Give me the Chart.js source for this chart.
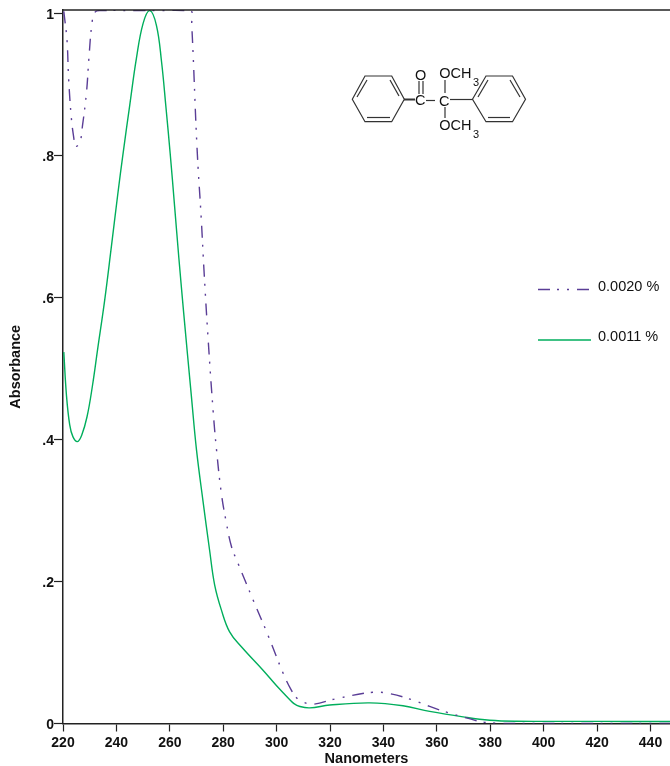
<!DOCTYPE html>
<html>
<head>
<meta charset="utf-8">
<title>Absorbance spectrum</title>
<script src="https://cdn.jsdelivr.net/npm/chart.js@4/dist/chart.umd.min.js"></script>
<style>
  html, body { margin: 0; padding: 0; background: #fff; }
  #wrap { position: relative; width: 670px; height: 766px; overflow: hidden; }
  #molecule { position: absolute; left: 340px; top: 50px; }
  #molecule text { font-family: "Liberation Sans", Arial, sans-serif; font-size: 14.5px; fill: #111; }
  #molecule text.sub { font-size: 11px; }
  #molecule line, #molecule polygon { stroke: #333; stroke-width: 1.2; fill: none; }
</style>
</head>
<body>
<div id="wrap">
  <canvas id="spectrum" width="670" height="766"></canvas>
  <svg id="molecule" width="200" height="110">
    <polygon points="12.3,49.3 25,26 51.7,26 64.3,49.3 51.7,71.7 25,71.7"/>
    <line x1="17" y1="47" x2="27" y2="30"/>
    <line x1="50" y1="30" x2="59" y2="46"/>
    <line x1="27" y1="67.5" x2="50" y2="67.5"/>
    <line x1="64" y1="49.5" x2="75" y2="49.5" style="stroke-width:2"/>
    <text x="75" y="55">C</text>
    <line x1="86" y1="50.5" x2="95" y2="50.5"/>
    <text x="99" y="55.5">C</text>
    <text x="75" y="30">O</text>
    <line x1="79" y1="31" x2="79" y2="44"/>
    <line x1="83" y1="31" x2="83" y2="44"/>
    <line x1="105" y1="30" x2="105" y2="43"/>
    <line x1="105" y1="57" x2="105" y2="68"/>
    <line x1="110" y1="49.5" x2="132.5" y2="49.5"/>
    <text x="99.3" y="27.7">OCH</text>
    <text class="sub" x="133" y="36">3</text>
    <text x="99.3" y="80">OCH</text>
    <text class="sub" x="133" y="87.7">3</text>
    <polygon points="132.5,49.3 146,26 172.5,26 185.5,49.3 172.5,71.7 146,71.7"/>
    <line x1="138" y1="47" x2="148" y2="30"/>
    <line x1="170" y1="30" x2="180" y2="47"/>
    <line x1="148" y1="67.5" x2="170" y2="67.5"/>
  </svg>
</div>
<script>
const wavelengths2 = [220.3, 221.5, 222.1, 223.1, 224, 224.8, 226.3, 227.3, 228.8, 229.7, 230.9, 232, 234, 250, 267.6, 268.2, 270.2, 271.8, 272.8, 274.3, 276.2, 277.5, 279.3, 281.2, 283.1, 285.5, 291.2, 296.8, 302.4, 305.5, 308, 310, 313.5, 322.4, 336, 342.4, 351, 357.3, 363.6, 371, 377.3, 382.3, 390, 420, 447.3];
const absorbance2 = [1.003, 0.962, 0.909, 0.854, 0.826, 0.813, 0.818, 0.842, 0.889, 0.937, 0.988, 1.002, 1.004, 1.004, 1.004, 0.985, 0.81, 0.709, 0.638, 0.544, 0.441, 0.385, 0.324, 0.282, 0.249, 0.226, 0.174, 0.124, 0.071, 0.047, 0.034, 0.03, 0.027, 0.035, 0.044, 0.042, 0.033, 0.024, 0.016, 0.008, 0.002, 0.0005, 0, 0, 0];

const wavelengths1 = [220.3, 221.3, 222.5, 223.7, 225.4, 227, 229, 231, 233, 235.6, 238, 240.5, 242.5, 245, 247.5, 250, 252.5, 255, 256.9, 258.5, 260.2, 261.8, 263.4, 265.2, 268.1, 270, 272.4, 274.9, 276.8, 279.3, 282.4, 286.8, 294.9, 299.9, 304.3, 306.5, 308.7, 312.4, 319.9, 334.9, 347.3, 357.3, 369.8, 379.8, 389.8, 420, 447.3];
const absorbance1 = [0.523, 0.462, 0.421, 0.404, 0.397, 0.406, 0.432, 0.475, 0.528, 0.596, 0.668, 0.745, 0.803, 0.871, 0.937, 0.986, 1.004, 0.983, 0.932, 0.87, 0.8, 0.728, 0.655, 0.578, 0.46, 0.385, 0.314, 0.244, 0.195, 0.16, 0.129, 0.108, 0.075, 0.0535, 0.036, 0.028, 0.024, 0.022, 0.026, 0.029, 0.025, 0.017, 0.0093, 0.0046, 0.0032, 0.003, 0.0028];

const seriesLabels = ['0.0020 %', '0.0011 %'];
const xTicks = [220, 240, 260, 280, 300, 320, 340, 360, 380, 400, 420, 440];
const yTicks = [0, 0.2, 0.4, 0.6, 0.8, 1];
const yTickLabels = ['0', '.2', '.4', '.6', '.8', '1'];

const FONT = '"Liberation Sans", Arial, sans-serif';
const PURPLE = '#5a3d96';
const GREEN = '#00ae5c';
const DASH = [12, 7, 2, 8, 2, 8];

// top frame line plus the hand placed legend on the right
const extras = {
  id: 'extras',
  afterDraw(chart) {
    const { ctx, chartArea } = chart;
    ctx.save();
    ctx.strokeStyle = '#222';
    ctx.lineWidth = 1.5;
    ctx.beginPath();
    ctx.moveTo(chartArea.left, chartArea.top);
    ctx.lineTo(chartArea.right, chartArea.top);
    ctx.stroke();

    chart.data.datasets.forEach((ds, i) => {
      const y = 289.5 + i * 50.5;
      ctx.strokeStyle = ds.borderColor;
      ctx.lineWidth = 1.4;
      ctx.setLineDash(ds.borderDash || []);
      ctx.beginPath();
      ctx.moveTo(538, y);
      ctx.lineTo(591, y);
      ctx.stroke();
      ctx.setLineDash([]);
      ctx.fillStyle = '#111';
      ctx.font = '14.5px ' + FONT;
      ctx.textBaseline = 'alphabetic';
      ctx.fillText(ds.label, 598, y + 1);
    });
    ctx.restore();
  }
};

new Chart(document.getElementById('spectrum').getContext('2d'), {
  type: 'line',
  plugins: [extras],
  data: {
    datasets: [
      {
        label: seriesLabels[0],
        data: wavelengths2.map((x, i) => ({ x, y: absorbance2[i] })),
        borderColor: PURPLE,
        borderWidth: 1.4,
        borderDash: DASH,
        pointRadius: 0,
        tension: 0.4
      },
      {
        label: seriesLabels[1],
        data: wavelengths1.map((x, i) => ({ x, y: absorbance1[i] })),
        borderColor: GREEN,
        borderWidth: 1.4,
        pointRadius: 0,
        tension: 0.4
      }
    ]
  },
  options: {
    responsive: false,
    animation: false,
    layout: { padding: { top: 10 } },
    plugins: { legend: { display: false }, tooltip: { enabled: false } },
    scales: {
      x: {
        type: 'linear',
        min: 220,
        max: 447.3,
        afterFit: s => { s.height = 42.5; },
        afterBuildTicks: s => { s.ticks = xTicks.map(value => ({ value })); },
        border: { color: '#222', width: 1.5 },
        grid: { drawOnChartArea: false, tickLength: 8, tickColor: '#222', tickWidth: 1.2 },
        ticks: {
          maxRotation: 0,
          autoSkip: false,
          padding: 3,
          color: '#111',
          font: { family: FONT, size: 14, weight: 'bold' }
        },
        title: {
          display: true,
          text: 'Nanometers',
          color: '#111',
          padding: { top: 0, bottom: 0 },
          font: { family: FONT, size: 14.5, weight: 'bold', lineHeight: 1 }
        }
      },
      y: {
        min: 0,
        max: 1.0049,
        afterFit: s => { s.width = 63; },
        afterBuildTicks: s => { s.ticks = yTicks.map(value => ({ value })); },
        border: { color: '#222', width: 1.5 },
        grid: { drawOnChartArea: false, tickLength: 9, tickColor: '#222', tickWidth: 1.2 },
        ticks: {
          autoSkip: false,
          padding: 0,
          labelOffset: 1.5,
          color: '#111',
          font: { family: FONT, size: 14, weight: 'bold' },
          callback: value => yTickLabels[yTicks.indexOf(value)]
        },
        title: {
          display: true,
          text: 'Absorbance',
          color: '#111',
          padding: { top: 8, bottom: 0 },
          font: { family: FONT, size: 14.5, weight: 'bold', lineHeight: 1.1 }
        }
      }
    }
  }
});
</script>
</body>
</html>
